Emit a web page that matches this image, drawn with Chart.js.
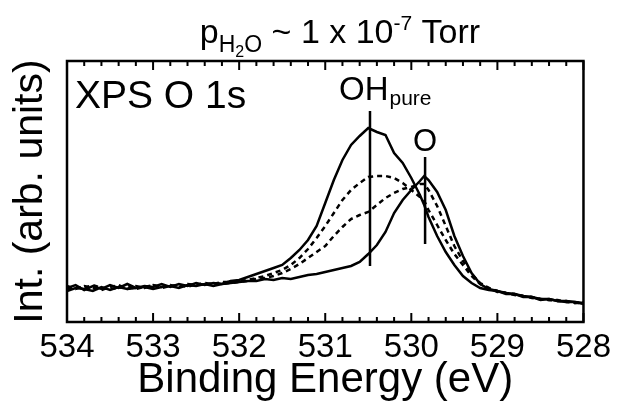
<!DOCTYPE html>
<html><head><meta charset="utf-8">
<script src="https://cdn.jsdelivr.net/npm/chart.js@4.4.1/dist/chart.umd.min.js"></script>
<style>html,body{margin:0;padding:0;background:#fff}canvas{display:block}</style>
</head><body>
<canvas id="c" width="617" height="406"></canvas>
<script>
// Binding energy (eV)
const energy = [534,533.9,533.8,533.7,533.6,533.5,533.4,533.3,533.2,533.1,533,532.9,532.8,532.7,532.6,532.5,532.4,532.3,532.2,532.1,
  532,531.9,531.8,531.7,531.6,531.5,531.4,531.3,531.2,531.1,531,530.9,530.8,530.7,530.6,530.5,530.4,530.3,530.2,530.1,530,529.9,
  529.85,
  529.8,529.7,529.6,529.5,529.4,529.3,529.2,529.1,529,528.9,528.8,528.7,528.6,528.5,528.4,528.3,528.2,528.1,528];
// Intensities (arb. units)
const solidOH = [34,37,32,36,33,37,34,38,34,36,35,38,35,38,36,39,37,39,38,41,
  42,45,48,51,54,57,64,72,82,96,119,142,162,177,186,194,190,187,169,159,144,127,
  117,
  105,86,70,57,46,39,34,32,31,28,28,25,25,22,23,21,21,20,19];
const dashedUpper = [36,33,36,34,32,35,37,33,36,34,37,35,37,35,38,37,39,38,40,40,
  41,42,44,46,49,52,57,64,73,84,96,109,122,132,139,145,146,146,144,139,132,125,
  121,
  112,97,82,68,57,46,38,34,30,29,27,26,24,23,22,22,20,19,20];
const dashedLower = [33,35,34,37,34,33,34,36,33,35,37,34,36,37,35,38,37,39,38,39,
  40,41,43,44,46,49,53,58,64,70,76,86,95,103,107,110,117,124,129,133,135,138,
  138,
  132,116,96,76,61,48,39,34,31,29,28,26,25,23,22,21,21,19,19];
const solidO = [31,34,33,31,35,32,35,33,34,35,33,35,36,34,37,36,38,36,38,39,
  40,41,41,43,42,44,43,45,47,48,50,52,54,56,60,68,77,90,109,122,132,141,
  146,
  142,130,112,86,66,49,38,33,31,29,28,26,25,23,23,21,20,20,18];
// Reference marker lines: [energy, low, high]
const markerOH = [530.48, 56, 211];
const markerO = [529.84, 78, 165];
const majorTicks = [534,533,532,531,530,529,528];

const FONT = "'Liberation Sans', Arial, Helvetica, sans-serif";
const series = vals => energy.map((e,i)=>({x:e,y:vals[i]}));
const marker = m => [{x:m[0],y:m[1]},{x:m[0],y:m[2]}];
const base = {borderColor:'#000',borderWidth:2.5,pointRadius:0,fill:false,tension:0};

const deco = {
  id:'deco',
  afterDraw(chart){
    const {ctx, chartArea:a, scales:{x,y}} = chart;
    ctx.save();
    ctx.strokeStyle='#000';
    ctx.lineWidth=2.5;
    ctx.strokeRect(a.left, a.top, a.right-a.left, a.bottom-a.top);
    ctx.lineWidth=2;
    ctx.beginPath();
    x.ticks.forEach(t=>{
      const px = x.getPixelForValue(t.value);
      const major = Math.abs(t.value-Math.round(t.value))<1e-6;
      const len = major?9:5;
      ctx.moveTo(px,a.bottom); ctx.lineTo(px,a.bottom-len);
      ctx.moveTo(px,a.top); ctx.lineTo(px,a.top+len);
    });
    ctx.stroke();
    ctx.fillStyle='#000';
    ctx.textBaseline='alphabetic';
    ctx.textAlign='left';
    ctx.font='39px '+FONT;
    ctx.fillText('XPS O 1s', a.left+8, a.top+47);
    // OH_pure label
    const ohx = x.getPixelForValue(markerOH[0]);
    const ohy = y.getPixelForValue(markerOH[2]) - 11;
    ctx.font='33px '+FONT;
    ctx.fillText('OH', ohx-31, ohy);
    const w = ctx.measureText('OH').width;
    ctx.font='21px '+FONT;
    ctx.fillText('pure', ohx-31+w+1, ohy+5);
    // O label
    ctx.font='31px '+FONT;
    ctx.textAlign='center';
    ctx.fillText('O', x.getPixelForValue(markerO[0]), y.getPixelForValue(markerO[2]) - 6);
    // Title
    const segs = [['p',34,0],['H',23,9],['2',16,14],['O',23,9],[' ~ 1 x 10',34,0],['-7',21,-13],[' Torr',34,0]];
    ctx.textAlign='left';
    let tw = 0;
    segs.forEach(s=>{ctx.font=s[1]+'px '+FONT; tw += ctx.measureText(s[0]).width;});
    let cx = 340 - tw/2;
    const by = 43;
    segs.forEach(s=>{ctx.font=s[1]+'px '+FONT; ctx.fillText(s[0], cx, by+s[2]); cx += ctx.measureText(s[0]).width;});
    ctx.restore();
  }
};

new Chart(document.getElementById('c'), {
  type:'line',
  data:{datasets:[
    Object.assign({data:series(solidOH)}, base),
    Object.assign({data:series(dashedUpper), borderDash:[5,4]}, base),
    Object.assign({data:series(dashedLower), borderDash:[5,4]}, base),
    Object.assign({data:series(solidO)}, base),
    Object.assign({data:marker(markerOH)}, base),
    Object.assign({data:marker(markerO)}, base)
  ]},
  options:{
    responsive:false, animation:false, devicePixelRatio:1,
    layout:{padding:{top:61,right:29,left:0,bottom:0}},
    plugins:{legend:{display:false}, tooltip:{enabled:false}},
    scales:{
      x:{type:'linear', reverse:true, min:528, max:534,
        ticks:{stepSize:0.2, autoSkip:false, maxRotation:0, padding:6, color:'#000',
          font:{family:FONT,size:33},
          callback:v=>{const r=Math.round(v); return (Math.abs(v-r)<1e-6 && majorTicks.includes(r)) ? String(r) : '';}},
        grid:{display:false, drawTicks:false}, border:{display:false},
        title:{display:true, text:'Binding Energy (eV)', color:'#000', font:{family:FONT,size:42}, padding:{top:0,bottom:0}},
        afterFit:s=>{s.height=84;}
      },
      y:{type:'linear', min:0, max:261,
        ticks:{display:false}, grid:{display:false, drawTicks:false}, border:{display:false},
        title:{display:true, text:'Int. (arb. units)', color:'#000', font:{family:FONT,size:41}, padding:{top:6,bottom:0}},
        afterFit:s=>{s.width=67;}
      }
    }
  },
  plugins:[deco]
});
</script>
</body></html>
